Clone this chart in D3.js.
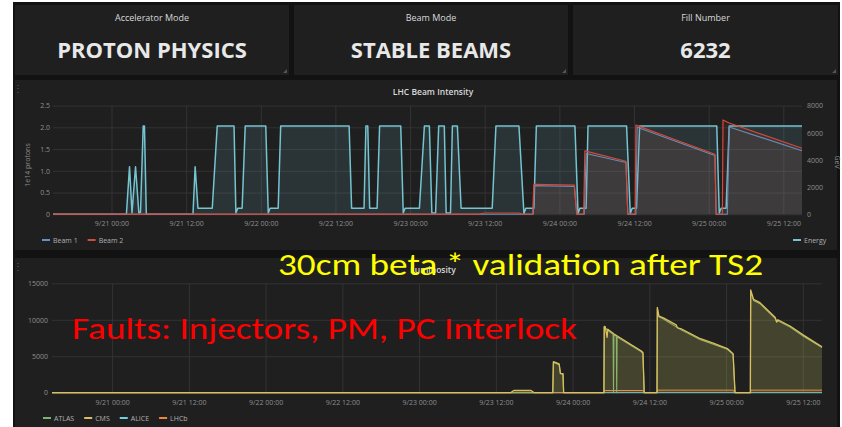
<!DOCTYPE html>
<html>
<head>
<meta charset="utf-8">
<script src="https://cdn.jsdelivr.net/npm/d3@7"></script>
<style>
body { margin: 0; background: #fff; }
text { font-family: "Open Sans", sans-serif; }
</style>
</head>
<body>
<svg width="842" height="427"></svg>
<script>
let parse = d3.timeParse('%Y/%m/%d %H:%M')
let t = s => parse('2017/' + s)

let statTitles = ['Accelerator Mode', 'Beam Mode', 'Fill Number']
let statValues = ['PROTON PHYSICS', 'STABLE BEAMS', '6232']

let timeRange = ['9/20 14:36', '9/25 15:00']
let tickTimes = ['9/21 00:00', '9/21 12:00', '9/22 00:00', '9/22 12:00', '9/23 00:00',
    '9/23 12:00', '9/24 00:00', '9/24 12:00', '9/25 00:00', '9/25 12:00']
let intensityTicks = [0, 0.5, 1.0, 1.5, 2.0, 2.5]
let energyTicks = [0, 2000, 4000, 6000, 8000]
let lumiTicks = [0, 5000, 10000, 15000]

// energy in GeV (right axis)
let energyTimes = ['9/20 14:36', '9/21 02:24', '9/21 02:54', '9/21 03:18', '9/21 03:52', '9/21 04:24',
    '9/21 04:40', '9/21 05:06', '9/21 05:18', '9/21 05:36', '9/21 13:06', '9/21 13:27', '9/21 13:54',
    '9/21 16:12', '9/21 17:00', '9/21 19:42', '9/21 20:00', '9/21 20:18', '9/21 21:00', '9/21 21:30',
    '9/22 00:48', '9/22 01:12', '9/22 01:30', '9/22 02:48', '9/22 03:12', '9/22 14:12', '9/22 14:36',
    '9/22 16:36', '9/22 16:54', '9/22 17:12', '9/22 17:30', '9/22 18:42', '9/22 19:06', '9/22 22:30',
    '9/22 22:54', '9/22 23:12', '9/23 01:30', '9/23 02:18', '9/23 03:06', '9/23 03:30', '9/23 04:06',
    '9/23 04:36', '9/23 05:30', '9/23 05:48', '9/23 06:30', '9/23 06:48', '9/23 07:36', '9/23 08:12',
    '9/23 13:12', '9/23 13:48', '9/23 17:30', '9/23 18:18', '9/23 18:36', '9/23 19:54', '9/23 20:18',
    '9/24 02:30', '9/24 03:00', '9/24 03:18', '9/24 04:18', '9/24 04:36', '9/24 10:48', '9/24 11:24',
    '9/24 11:42', '9/24 12:24', '9/24 12:54', '9/25 01:18', '9/25 01:42', '9/25 02:00', '9/25 02:48',
    '9/25 03:18', '9/25 15:00']
let energyValues = [0, 0, 3500, 100, 3500, 100,
    150, 6500, 6500, 0, 0, 3500, 450,
    450, 6500, 6500, 100, 450, 450, 6500,
    6500, 100, 450, 450, 6500, 6500, 450,
    450, 6500, 6500, 450, 450, 6500, 6500,
    100, 450, 450, 6500, 6500, 100, 100,
    6500, 6500, 100, 100, 6500, 6500, 450,
    450, 6500, 6500, 50, 450, 450, 6500,
    6500, 50, 450, 450, 6500, 6500, 50,
    450, 450, 6500, 6500, 100, 450, 450,
    6500, 6500]

// beam intensities in 1e14 protons (left axis)
let beam1Times = ['9/20 14:36', '9/23 19:48', '9/23 20:00', '9/24 02:24', '9/24 02:48', '9/24 04:00',
    '9/24 04:18', '9/24 10:42', '9/24 11:00', '9/24 12:18', '9/24 12:30', '9/25 01:00', '9/25 01:12',
    '9/25 03:00', '9/25 03:18', '9/25 15:00']
let beam1Values = [0, 0, 0.66, 0.64, 0, 0,
    1.40, 1.19, 0, 0, 2.00, 1.35, 0,
    0, 2.01, 1.46]
let beam2Times = ['9/20 14:36', '9/23 11:00', '9/23 12:00', '9/23 17:30', '9/23 18:00', '9/23 19:42',
    '9/23 19:54', '9/24 02:24', '9/24 02:48', '9/24 03:54', '9/24 04:06', '9/24 10:42', '9/24 11:00',
    '9/24 12:12', '9/24 12:18', '9/24 18:00', '9/25 01:00', '9/25 01:12', '9/25 02:12', '9/25 02:18',
    '9/25 03:18', '9/25 15:00']
let beam2Values = [0.005, 0.005, 0.03, 0.03, 0.005, 0.01,
    0.69, 0.67, 0.005, 0.01, 1.46, 1.22, 0.005,
    0.01, 2.05, 1.75, 1.38, 0.005, 0.01, 2.17,
    2.10, 1.52]

// luminosity
let cmsTimes = ['9/20 14:36', '9/23 14:18', '9/23 14:48', '9/23 17:30', '9/23 18:00', '9/23 20:54',
    '9/23 21:00', '9/23 21:54', '9/23 22:06', '9/23 22:30', '9/23 22:36', '9/24 04:54', '9/24 04:57',
    '9/24 05:06', '9/24 05:24', '9/24 05:30', '9/24 06:30', '9/24 07:18', '9/24 10:42', '9/24 11:00',
    '9/24 11:12', '9/24 13:12', '9/24 13:15', '9/24 13:30', '9/24 14:12', '9/24 16:12', '9/24 16:24',
    '9/24 16:54', '9/24 20:00', '9/24 22:06', '9/25 00:12', '9/25 01:06', '9/25 01:24', '9/25 03:48',
    '9/25 03:51', '9/25 04:18', '9/25 05:18', '9/25 07:42', '9/25 07:54', '9/25 08:06', '9/25 10:00',
    '9/25 12:06', '9/25 15:00']
let cmsValues = [0, 0, 300, 300, 0, 0,
    4250, 3950, 2650, 2600, 0, 0, 9100,
    9050, 7600, 8700, 8050, 7600, 5750, 5500,
    0, 0, 11700, 10500, 10250, 9300, 8900,
    8800, 7400, 6750, 6050, 5350, 0, 0,
    14100, 12800, 12350, 10300, 9750, 10000, 9150,
    7900, 6300]
let atlasTimes = ['9/20 14:36', '9/23 20:54', '9/23 21:00', '9/23 21:54', '9/23 22:06', '9/23 22:30',
    '9/23 22:36', '9/24 04:54', '9/24 04:57', '9/24 05:06', '9/24 05:30', '9/24 06:20', '9/24 06:24',
    '9/24 06:28', '9/24 06:50', '9/24 06:54', '9/24 06:58', '9/24 07:18', '9/24 10:42', '9/24 11:00',
    '9/24 11:12', '9/24 13:12', '9/24 13:15', '9/24 13:30', '9/24 14:12', '9/24 16:54', '9/24 20:00',
    '9/24 22:06', '9/25 00:12', '9/25 01:06', '9/25 01:24', '9/25 03:48', '9/25 03:51', '9/25 04:18',
    '9/25 05:18', '9/25 07:42', '9/25 07:54', '9/25 08:06', '9/25 10:00', '9/25 12:06', '9/25 15:00']
let atlasValues = [0, 0, 4150, 3850, 2600, 2550,
    0, 0, 8950, 8900, 8550, 8000, 0,
    7950, 7750, 0, 7650, 7450, 5650, 5400,
    0, 0, 11500, 10400, 10100, 8650, 7250,
    6600, 5950, 5250, 0, 0, 13900, 12650,
    12200, 10150, 9650, 9850, 9000, 7750, 6200]
let aliceTimes = ['9/20 14:36', '9/25 15:00']
let aliceValues = [5, 5]
let lhcbTimes = ['9/20 14:36', '9/24 04:54', '9/24 05:00', '9/24 11:00', '9/24 11:12', '9/24 13:12',
    '9/24 13:18', '9/25 01:06', '9/25 01:24', '9/25 03:48', '9/25 03:54', '9/25 15:00']
let lhcbValues = [0, 0, 300, 300, 0, 0,
    350, 350, 0, 0, 350, 350]

let energyColor = '#74c4d2',
    beam1Color = '#5f93c4',
    beam2Color = '#d44a3a',
    lumiColors = { ATLAS: '#7eb26d', CMS: '#dcbd5c', ALICE: '#6ed0e0', LHCb: '#ef843c' }

let zip = (ts, vs) => ts.map((s, i) => ({ time: t(s), value: vs[i] }))

let svg = d3.select('svg')
let fmt = d3.timeFormat('%-m/%d %H:%M')
let domain = timeRange.map(t)

// dashboard background
svg.append('rect').attr('x', 13).attr('y', 2).attr('width', 827).attr('height', 425).attr('fill', '#121212')

// stat panels
let statX = [15, 294, 573],
    statW = [274, 274, 265]
statTitles.forEach((title, i) => {
    let g = svg.append('g').attr('transform', 'translate(' + statX[i] + ',5)')
    g.append('rect').attr('width', statW[i]).attr('height', 70).attr('fill', '#1f1f1f')
    g.append('text')
        .text(title)
        .attr('x', statW[i] / 2)
        .attr('y', 16)
        .attr('text-anchor', 'middle')
        .attr('fill', '#d8d9da')
        .attr('font-size', 9)
    g.append('text')
        .text(statValues[i])
        .attr('x', statW[i] / 2)
        .attr('y', 53)
        .attr('text-anchor', 'middle')
        .attr('fill', '#e8e8e8')
        .attr('font-size', 22)
        .attr('font-weight', 700)
    g.append('path')
        .attr('d', 'M' + (statW[i] - 2) + ',' + 64 + 'L' + (statW[i] - 2) + ',' + 68 + 'L' + (statW[i] - 6) + ',' + 68 + 'Z')
        .attr('fill', '#555')
})

function panel(y, h, title) {
    let g = svg.append('g')
    g.append('rect').attr('x', 15).attr('y', y).attr('width', 822).attr('height', h).attr('fill', '#1f1f1f')
    g.append('text')
        .text(title)
        .attr('x', 433)
        .attr('y', y + 15)
        .attr('text-anchor', 'middle')
        .attr('fill', '#d8d9da')
        .attr('font-size', 8.5)
        .attr('font-weight', 600)
    g.append('text').text('⋮').attr('x', 13).attr('y', y + 12).attr('fill', '#555').attr('font-size', 10)
    return g
}

function grid(g, x, y, yTicks) {
    g.append('g')
        .attr('transform', 'translate(0,' + y.range()[0] + ')')
        .call(d3.axisBottom(x).tickValues(tickTimes.map(t)).tickSize(-(y.range()[0] - y.range()[1])).tickFormat(''))
        .call(a => a.select('.domain').remove())
        .selectAll('line').attr('stroke', '#333').attr('stroke-width', 1)
    g.append('g')
        .attr('transform', 'translate(' + x.range()[0] + ',0)')
        .call(d3.axisLeft(y).tickValues(yTicks).tickSize(-(x.range()[1] - x.range()[0])).tickFormat(''))
        .call(a => a.select('.domain').remove())
        .selectAll('line').attr('stroke', '#333').attr('stroke-width', 1)
}

function styleAxis(a) {
    a.select('.domain').remove()
    a.selectAll('text').attr('fill', '#8e8e8e').attr('font-size', 7)
}

function series(g, data, x, y, color, fillOpacity, width) {
    g.append('path')
        .datum(data)
        .attr('d', d3.area().x(d => x(d.time)).y0(y(0)).y1(d => y(d.value)))
        .attr('fill', color)
        .attr('fill-opacity', fillOpacity)
    g.append('path')
        .datum(data)
        .attr('d', d3.line().x(d => x(d.time)).y(d => y(d.value)))
        .attr('fill', 'none')
        .attr('stroke', color)
        .attr('stroke-width', width)
        .attr('stroke-linejoin', 'round')
}

function legend(g, items, x0, y) {
    let x = x0
    items.forEach(it => {
        g.append('line').attr('x1', x).attr('x2', x + 8).attr('y1', y).attr('y2', y)
            .attr('stroke', it.color).attr('stroke-width', 2)
        let tx = g.append('text').text(it.name).attr('x', x + 11).attr('y', y + 2.5)
            .attr('fill', '#b0b0b0').attr('font-size', 7)
        x += 11 + tx.node().getComputedTextLength() + 10
    })
}

// ---- LHC Beam Intensity
let p1 = panel(80, 170, 'LHC Beam Intensity')
let x1 = d3.scaleTime().domain(domain).range([53, 802])
let yL = d3.scaleLinear().domain([0, 2.5]).range([214.3, 105.6])
let yR = d3.scaleLinear().domain([0, 8000]).range([214.3, 105.6])
grid(p1, x1, yL, intensityTicks)

series(p1, zip(energyTimes, energyValues), x1, yR, energyColor, 0.13, 1.5)
series(p1, zip(beam1Times, beam1Values), x1, yL, beam1Color, 0.06, 1.1)
series(p1, zip(beam2Times, beam2Values), x1, yL, beam2Color, 0.1, 1.2)

p1.append('g').attr('transform', 'translate(50,0)')
    .call(d3.axisLeft(yL).tickValues(intensityTicks).tickSize(0).tickPadding(0)
        .tickFormat(d => d === 0 ? '0' : d3.format('.1f')(d)))
    .call(styleAxis)
p1.append('g').attr('transform', 'translate(807,0)')
    .call(d3.axisRight(yR).tickValues(energyTicks).tickSize(0).tickPadding(0).tickFormat(d3.format('d')))
    .call(styleAxis)
p1.append('g').attr('transform', 'translate(0,221)')
    .call(d3.axisBottom(x1).tickValues(tickTimes.map(t)).tickSize(0).tickPadding(0).tickFormat(fmt))
    .call(styleAxis)
p1.append('text').text('1e14 protons')
    .attr('transform', 'translate(30,165) rotate(-90)')
    .attr('text-anchor', 'middle').attr('fill', '#8e8e8e').attr('font-size', 7)
p1.append('text').text('GeV')
    .attr('transform', 'translate(835,162) rotate(90)')
    .attr('text-anchor', 'middle').attr('fill', '#8e8e8e').attr('font-size', 7)
legend(p1, [{ name: 'Beam 1', color: beam1Color }, { name: 'Beam 2', color: beam2Color }], 42, 240)
legend(p1, [{ name: 'Energy', color: energyColor }], 793, 240)

// ---- Luminosity
let p2 = panel(258, 169, 'Luminosity')
let x2 = d3.scaleTime().domain(domain).range([52, 822])
let yLum = d3.scaleLinear().domain([0, 15000]).range([392.7, 283.3])
grid(p2, x2, yLum, lumiTicks)

series(p2, zip(aliceTimes, aliceValues), x2, yLum, lumiColors.ALICE, 0.1, 1)
series(p2, zip(lhcbTimes, lhcbValues), x2, yLum, lumiColors.LHCb, 0.1, 1)
series(p2, zip(atlasTimes, atlasValues), x2, yLum, lumiColors.ATLAS, 0.1, 1.1)
series(p2, zip(cmsTimes, cmsValues), x2, yLum, lumiColors.CMS, 0.16, 1.3)

p2.append('g').attr('transform', 'translate(48,0)')
    .call(d3.axisLeft(yLum).tickValues(lumiTicks).tickSize(0).tickPadding(0).tickFormat(d3.format('d')))
    .call(styleAxis)
p2.append('g').attr('transform', 'translate(0,400)')
    .call(d3.axisBottom(x2).tickValues(tickTimes.map(t)).tickSize(0).tickPadding(0).tickFormat(fmt))
    .call(styleAxis)
legend(p2, Object.keys(lumiColors).map(k => ({ name: k, color: lumiColors[k] })), 43, 418)

// slide annotations
svg.append('text')
    .text('30cm beta * validation after TS2')
    .attr('x', 278).attr('y', 275)
    .attr('textLength', 485).attr('lengthAdjust', 'spacingAndGlyphs')
    .attr('fill', '#ffff00').attr('font-size', 30)
    .style('font-family', 'Carlito, Calibri, "Noto Sans", sans-serif')
svg.append('text')
    .text('Faults: Injectors, PM, PC Interlock')
    .attr('x', 72).attr('y', 339)
    .attr('textLength', 505).attr('lengthAdjust', 'spacingAndGlyphs')
    .attr('fill', '#ff0000').attr('font-size', 31)
    .style('font-family', 'Carlito, Calibri, "Noto Sans", sans-serif')
</script>
</body>
</html>
